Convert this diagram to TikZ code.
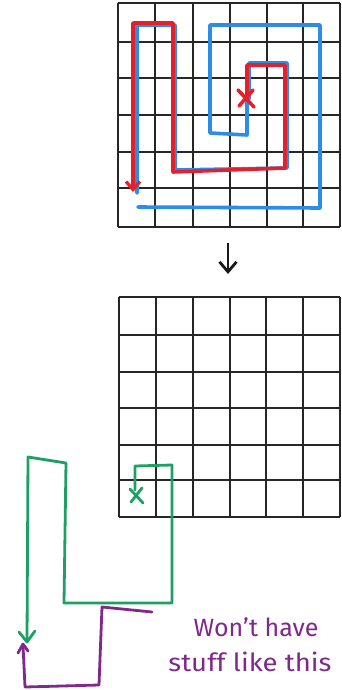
\documentclass[tikz,border=0pt]{standalone}
\usepackage{fontspec}
\setmainfont{Fira Sans}
\usetikzlibrary{arrows.meta}
\definecolor{pred}{RGB}{228,32,44}
\definecolor{pblue}{RGB}{45,140,230}
\definecolor{pgreen}{RGB}{30,160,100}
\definecolor{ppurple}{RGB}{128,40,140}
\tikzset{
  gridline/.style={line width=2.3pt,black!85},
  pen/.style={line width=3.6pt,line join=round,line cap=round},
  thinpen/.style={line width=2.8pt,line join=round,line cap=round},
  barb/.style={-{Straight Barb[length=8pt,width=14pt,line width=3.2pt]}},
  note/.style={text=ppurple,font=\fontsize{25}{28}\selectfont,inner sep=0pt}
}
\begin{document}
\begin{tikzpicture}[x=1pt,y=-1pt]
\useasboundingbox (0,0) rectangle (342,690);
% top grid
\foreach \x in {118,155,193,230,267,303,340} \draw[gridline] (\x,3) -- (\x,227);
\foreach \y in {3,42,78,115,152,188,227} \draw[gridline] (118,\y) -- (340,\y);
% blue path
\draw[pen,pblue] (247,99) -- (247,135) -- (210,133) -- (210,25) -- (320,25) -- (320,208) -- (138,207);
\draw[pen,pblue] (249,99) -- (249,63) -- (287,63) -- (287,168) -- (175,170) -- (175,25) -- (137,25) -- (137,193);
% red path
\draw[pen,pred,barb] (247,99) -- (247,65) -- (285,65) -- (285,168) -- (173,172) -- (173,23) -- (133,23) -- (133,192);
\draw[pen,pred] (238,90) -- (254,107) (253,90) -- (239,106);
% arrow between grids
\coordinate (atop) at (228,243);
\coordinate (abot) at (228,274);
\draw[line width=2.8pt,black!90,-{Straight Barb[length=10pt,width=17pt,line width=2.8pt]}] (atop) -- (abot);
% bottom grid
\foreach \x in {119,156,193,230,266,303,340} \draw[gridline] (\x,297) -- (\x,517);
\foreach \y in {297,335,372,408,445,480,517} \draw[gridline] (119,\y) -- (340,\y);
% green path
\draw[thinpen,pgreen] (135,490) -- (135,466) -- (172,465) -- (172,603) -- (64,603) -- (66,463) -- (28,457) -- (27,641);
\draw[thinpen,pgreen] (130,489) -- (143,503) (142,488) -- (131,502);
\draw[thinpen,pgreen] (19,632) -- (27,642) -- (35,631);
% purple path
\draw[thinpen,ppurple] (152,612) -- (102,607) -- (99,685) -- (25,687) -- (23,645);
\draw[thinpen,ppurple] (18,653) -- (23,644) -- (28,651);
% note
\node[note] (n1) at (256,627) {Won't have};
\node[note,xscale=1.1] (n2) at (250,662) {stuff like this};
\end{tikzpicture}
\end{document}
